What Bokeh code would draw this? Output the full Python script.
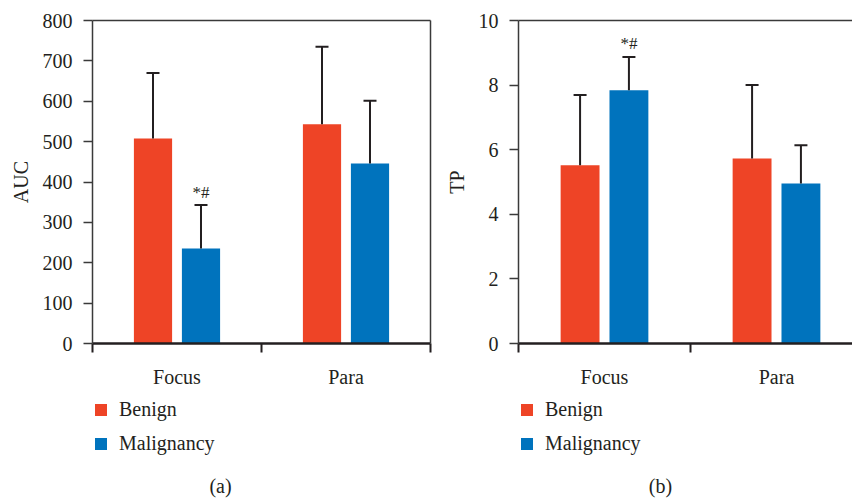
from bokeh.plotting import figure
from bokeh.models import (ColumnDataSource, Whisker, TeeHead, FixedTicker, LinearAxis,
                          Legend, LegendItem, Label, Range1d)
from bokeh.layouts import row, column
from bokeh.core.properties import value
from bokeh.embed import file_html
from bokeh.resources import INLINE

# Groups and series
groups = ["Focus", "Para"]
series = ["Benign", "Malignancy"]

# (a) AUC: means and SDs
auc_benign = [508, 543]
auc_benign_sd = [162, 192]
auc_malig = [235, 446]
auc_malig_sd = [108, 155]
auc_marks = ["*#", ""]
auc_ticks = [0, 100, 200, 300, 400, 500, 600, 700, 800]

# (b) TP: means and SDs
tp_benign = [5.52, 5.73]
tp_benign_sd = [2.17, 2.27]
tp_malig = [7.84, 4.95]
tp_malig_sd = [1.03, 1.19]
tp_marks = ["*#", ""]
tp_ticks = [0, 2, 4, 6, 8, 10]

RED = "#EE4426"
BLUE = "#0073BD"
INK = "#231f20"
FRAME = "#3a3a3a"
FONT = "Liberation Serif"
FS = "20px"
OFFSET = 0.142
BAR_W = 0.226

CHART_H = 390     # bar chart part
KEY_H = 111       # legend + caption part
TOP = 20
BOTTOM = 47


def make_chart(ylabel, benign, bsd, malig, msd, marks, yticks, width,
               border_left, x_end, right_border):
    centers = [i + 0.5 for i in range(len(groups))]
    src = ColumnDataSource(dict(
        xb=[c - OFFSET for c in centers],
        xm=[c + OFFSET for c in centers],
        benign=benign,
        benign_hi=[v + s for v, s in zip(benign, bsd)],
        malig=malig,
        malig_hi=[v + s for v, s in zip(malig, msd)],
        marks=marks,
    ))

    p = figure(width=width, height=CHART_H, output_backend="svg", toolbar_location=None,
               x_range=Range1d(0, x_end), y_range=Range1d(0, yticks[-1]),
               min_border_left=border_left, min_border_right=10 if right_border else 0,
               min_border_top=TOP, min_border_bottom=BOTTOM)
    p.outline_line_color = None
    p.grid.visible = False

    p.vbar(x="xb", top="benign", width=BAR_W, source=src,
           fill_color=RED, line_color=None)
    p.vbar(x="xm", top="malig", width=BAR_W, source=src,
           fill_color=BLUE, line_color=None)

    for base, lo, hi in (("xb", "benign", "benign_hi"), ("xm", "malig", "malig_hi")):
        w = Whisker(source=src, base=base, lower=lo, upper=hi,
                    line_color=INK, line_width=2, lower_head=None,
                    upper_head=TeeHead(size=13, line_color=INK, line_width=2),
                    level="overlay")
        p.add_layout(w)

    p.text(x="xm", y="malig_hi", text="marks", source=src,
           text_font=value(FONT), text_font_size="17px", text_color=INK,
           text_align="center", text_baseline="alphabetic", y_offset=-13)

    # x axis: labels at group centres, marks at group boundaries
    xa = p.xaxis[0]
    xa.ticker = FixedTicker(ticks=centers,
                            minor_ticks=list(range(len(groups) + 1)))
    xa.major_label_overrides = {c: g for c, g in zip(centers, groups)}
    xa.major_tick_out = 0
    xa.major_tick_in = 0
    xa.minor_tick_out = 9
    xa.minor_tick_in = 0
    xa.minor_tick_line_width = 2
    xa.minor_tick_line_color = INK
    xa.axis_line_width = 2.5
    xa.axis_line_color = INK
    xa.major_label_standoff = 13
    xa.major_label_text_font = FONT
    xa.major_label_text_font_size = FS
    xa.major_label_text_color = INK

    ya = p.yaxis[0]
    ya.ticker = FixedTicker(ticks=yticks)
    ya.minor_tick_out = 0
    ya.minor_tick_in = 0
    ya.major_tick_out = 9
    ya.major_tick_in = 0
    ya.major_tick_line_width = 1.5
    ya.major_tick_line_color = FRAME
    ya.axis_line_width = 1.5
    ya.axis_line_color = FRAME
    ya.major_label_standoff = 11
    ya.major_label_text_font = FONT
    ya.major_label_text_font_size = FS
    ya.major_label_text_color = INK
    ya.axis_label = ylabel
    ya.axis_label_standoff = 8
    ya.axis_label_text_font = FONT
    ya.axis_label_text_font_size = FS
    ya.axis_label_text_font_style = "normal"
    ya.axis_label_text_color = INK

    # plain frame lines on top (and right for the first panel)
    sides = ["above"] + (["right"] if right_border else [])
    for side in sides:
        ax = LinearAxis(ticker=FixedTicker(ticks=[]), axis_line_color=FRAME,
                        axis_line_width=1.5, major_tick_out=0, major_tick_in=0,
                        minor_tick_out=0, minor_tick_in=0, major_label_standoff=0)
        p.add_layout(ax, side)
    return p


def make_key(width, caption_x, caption):
    # the frame of this strip lines up with the chart frame above it
    k = figure(width=width, height=KEY_H, output_backend="svg", toolbar_location=None,
               x_range=Range1d(0, 1), y_range=Range1d(0, 1),
               x_axis_type=None, y_axis_type=None,
               min_border_left=0, min_border_right=0, min_border_top=0, min_border_bottom=0)
    k.outline_line_color = None
    k.grid.visible = False
    # swatch renderers, placed off the visible range
    rb = k.vbar(x=[5], top=[0], width=0.1, fill_color=RED, line_color=None)
    rm = k.vbar(x=[5], top=[0], width=0.1, fill_color=BLUE, line_color=None)
    legend = Legend(items=[LegendItem(label=series[0], renderers=[rb]),
                           LegendItem(label=series[1], renderers=[rm])],
                    location=(1, 46), orientation="vertical",
                    glyph_width=15, glyph_height=15, label_height=22,
                    spacing=11, padding=0, margin=0, label_standoff=11,
                    border_line_color=None, background_fill_alpha=0,
                    label_text_font=FONT, label_text_font_size=FS,
                    label_text_color=INK)
    k.add_layout(legend)
    k.add_layout(Label(x=caption_x, y=16, x_units="screen", y_units="screen",
                       text=caption, text_align="center", text_baseline="middle",
                       text_font=FONT, text_font_size=FS, text_color=INK))
    return k


p1 = make_chart("AUC", auc_benign, auc_benign_sd, auc_malig, auc_malig_sd, auc_marks,
                auc_ticks, width=440, border_left=92, x_end=2, right_border=True)
p2 = make_chart("TP", tp_benign, tp_benign_sd, tp_malig, tp_malig_sd, tp_marks,
                tp_ticks, width=412, border_left=78, x_end=334 / 172, right_border=False)
k1 = make_key(440, 128, "(a)")
k2 = make_key(412, 142, "(b)")

layout = row(column(p1, k1), column(p2, k2))
open("out.html", "w").write(file_html(layout, INLINE))
